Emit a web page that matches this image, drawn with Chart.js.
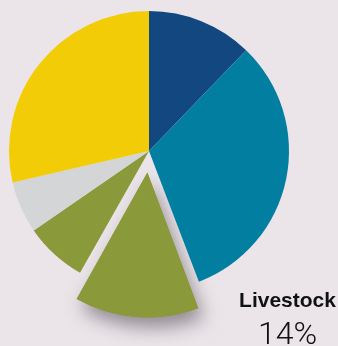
<!DOCTYPE html>
<html>
<head>
<meta charset="utf-8">
<script src="https://cdn.jsdelivr.net/npm/chart.js@4/dist/chart.umd.min.js"></script>
<style>
  html, body { margin: 0; padding: 0; background: #ebe5ea; }
  #wrap { position: relative; width: 338px; height: 346px; }
</style>
</head>
<body>
<div id="wrap"><canvas id="c" width="338" height="346"></canvas></div>
<script>
// Data (clockwise from 12 o'clock)
const categories = ["Sector A", "Sector B", "Livestock", "Sector D", "Sector E", "Sector F"];
const shares = [12.2, 32, 14, 7.2, 6, 28.6];
const colors = ["#13477f", "#027ea1", "#8a9a3a", "#8a9a3a", "#d3d5d6", "#f2cd07"];
const explodedIndex = 2;
const labelText = categories[explodedIndex];
const labelValue = shares[explodedIndex] + "%";

const shadowPlugin = {
  id: 'sliceShadow',
  beforeDatasetsDraw(chart) {
    const arc = chart.getDatasetMeta(0).data[explodedIndex];
    if (!arc) return;
    const ctx = chart.ctx;
    ctx.save();
    ctx.shadowColor = 'rgba(60,50,60,0.5)';
    ctx.shadowBlur = 18;
    ctx.shadowOffsetX = 5;
    ctx.shadowOffsetY = 10;
    arc.draw(ctx);
    ctx.restore();
  }
};

const labelPlugin = {
  id: 'calloutLabel',
  afterDraw(chart) {
    const ctx = chart.ctx;
    ctx.save();
    ctx.fillStyle = '#111111';
    ctx.textAlign = 'center';
    ctx.textBaseline = 'alphabetic';
    ctx.font = 'bold 21px "Liberation Sans", Arial, sans-serif';
    ctx.fillText(labelText, 287.5, 307);
    ctx.font = '300 32px Roboto, "Liberation Sans", sans-serif';
    ctx.fillText(labelValue, 287.5, 344);
    ctx.restore();
  }
};

new Chart(document.getElementById('c'), {
  type: 'pie',
  data: {
    labels: categories,
    datasets: [{
      data: shares,
      backgroundColor: colors,
      borderWidth: 0,
      offset: shares.map((v, i) => i === explodedIndex ? 86 : 0)
    }]
  },
  options: {
    responsive: false,
    animation: false,
    radius: 140,
    layout: { padding: { left: 0, right: 40, top: 0, bottom: 44 } },
    plugins: {
      legend: { display: false },
      tooltip: { enabled: false }
    }
  },
  plugins: [shadowPlugin, labelPlugin]
});
</script>
</body>
</html>
